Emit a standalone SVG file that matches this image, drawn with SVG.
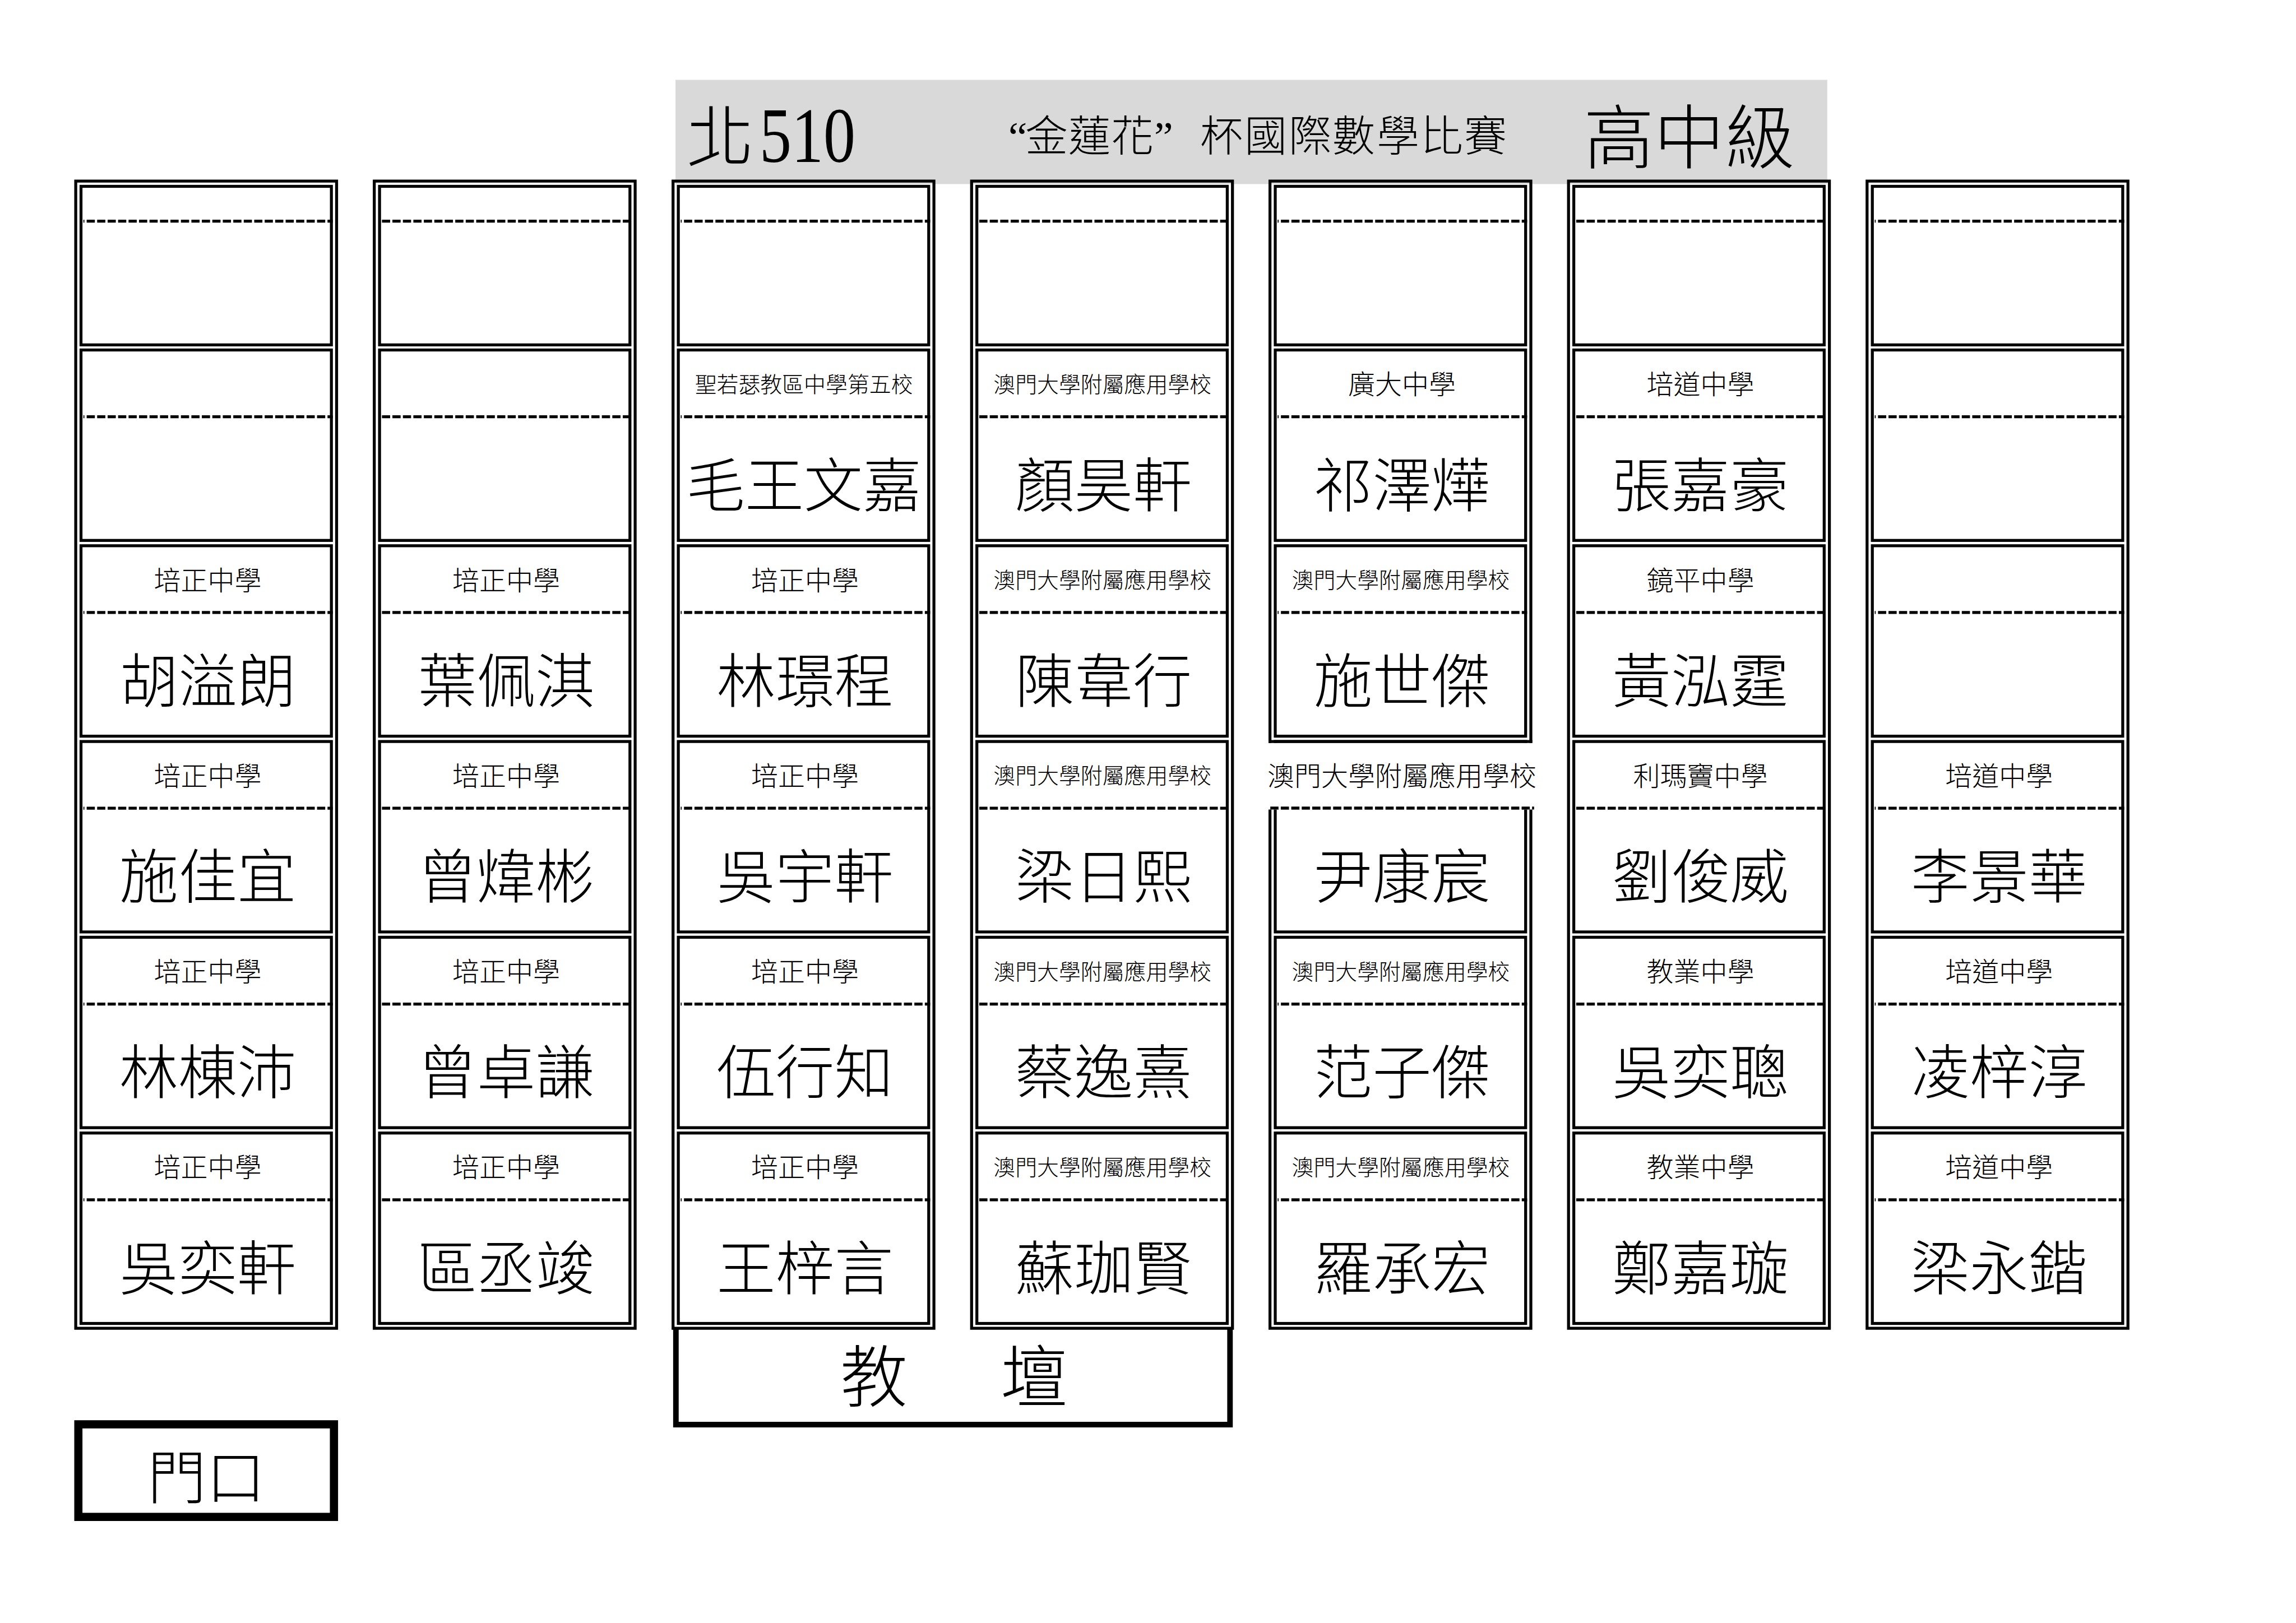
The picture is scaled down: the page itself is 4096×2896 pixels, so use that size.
<svg xmlns="http://www.w3.org/2000/svg" xmlns:xlink="http://www.w3.org/1999/xlink" width="4096" height="2896" viewBox="0 0 4096 2896">
<style>
text{font-family:"Liberation Serif","Noto Sans CJK TC",serif;fill:#000;text-anchor:middle;font-weight:300}
.n{font-size:105px}
.s{font-size:48px}
.t{font-size:38.9px}
.frame{fill:none;stroke:#000;stroke-width:5.25}
.cellbox{fill:#fff;stroke:#000;stroke-width:5.25}
.dash{fill:none;stroke:#000;stroke-width:5.25;stroke-dasharray:14.6 4.08}
.odd{stroke-dashoffset:12.85}
.even{stroke-dashoffset:0}
</style>
<defs>
<g id="cellTop"><rect class="cellbox" x="12" y="0" width="446.7" height="282.9"/><line class="dash" x1="16.3" y1="62.2" x2="461.3" y2="62.2"/></g>
<g id="cell"><rect class="cellbox" x="12" y="0" width="446.7" height="339.8"/><line class="dash" x1="16.3" y1="119.1" x2="461.3" y2="119.1"/></g>
<path id="outer" class="frame" d="M2.6 323.2H468V2370H2.6Z"/>
</defs>
<rect width="4096" height="2896" fill="#fff"/>
<g id="title">
<rect x="1205.1" y="142.5" width="2054.7" height="186" fill="#d9d9d9"/>
<text x="1285" y="288" font-size="120">北</text>
<text x="1355" y="289" font-size="139" textLength="171" lengthAdjust="spacingAndGlyphs" style="text-anchor:start">510</text>
<text x="1798.7 1829 1905.5 1982 2059 2141 2220 2299 2377 2456 2534 2612" y="270.4" font-size="76" style="text-anchor:start">“金蓮花”杯國際數學比賽</text>
<text x="3013.6" y="291.4" font-size="125.5">高中級</text>
</g>
<g id="podium">
<path d="M1205.8 2370V2542H2194.3V2370" fill="none" stroke="#000" stroke-width="9.9"/>
<text y="2501" font-size="120"><tspan x="1574">教</tspan> <tspan x="1845">壇</tspan></text>
</g>
<g id="door">
<rect x="139.8" y="2541.5" width="456" height="165.2" fill="none" stroke="#000" stroke-width="14.6"/>
<text x="368" y="2674" font-size="105">門口</text>
</g>
<g id="col1" class="odd" transform="translate(132.5 0)">
<use href="#outer"/>
<g id="c1r1"><use href="#cellTop" y="332.5"/></g>
<g id="c1r2" transform="translate(0 624.5)"><use href="#cell"/></g>
<g id="c1r3" transform="translate(0 973.8)"><use href="#cell"/><text class="s" x="238" y="78.8">培正中學</text><text class="n" x="238" y="279">胡溢朗</text></g>
<g id="c1r4" transform="translate(0 1323.1)"><use href="#cell"/><text class="s" x="238" y="78.8">培正中學</text><text class="n" x="238" y="279">施佳宜</text></g>
<g id="c1r5" transform="translate(0 1672.4)"><use href="#cell"/><text class="s" x="238" y="78.8">培正中學</text><text class="n" x="238" y="279">林棟沛</text></g>
<g id="c1r6" transform="translate(0 2021.7)"><use href="#cell"/><text class="s" x="238" y="78.8">培正中學</text><text class="n" x="238" y="279">吳奕軒</text></g>
</g>
<g id="col2" class="even" transform="translate(665.1 0)">
<use href="#outer"/>
<g id="c2r1"><use href="#cellTop" y="332.5"/></g>
<g id="c2r2" transform="translate(0 624.5)"><use href="#cell"/></g>
<g id="c2r3" transform="translate(0 973.8)"><use href="#cell"/><text class="s" x="238" y="78.8">培正中學</text><text class="n" x="238" y="279">葉佩淇</text></g>
<g id="c2r4" transform="translate(0 1323.1)"><use href="#cell"/><text class="s" x="238" y="78.8">培正中學</text><text class="n" x="238" y="279">曾煒彬</text></g>
<g id="c2r5" transform="translate(0 1672.4)"><use href="#cell"/><text class="s" x="238" y="78.8">培正中學</text><text class="n" x="238" y="279">曾卓謙</text></g>
<g id="c2r6" transform="translate(0 2021.7)"><use href="#cell"/><text class="s" x="238" y="78.8">培正中學</text><text class="n" x="238" y="279">區丞竣</text></g>
</g>
<g id="col3" class="odd" transform="translate(1198.1 0)">
<use href="#outer"/>
<g id="c3r1"><use href="#cellTop" y="332.5"/></g>
<g id="c3r2" transform="translate(0 624.5)"><use href="#cell"/><text class="t" x="236" y="75.3">聖若瑟教區中學第五校</text><text class="n" x="236" y="279">毛王文嘉</text></g>
<g id="c3r3" transform="translate(0 973.8)"><use href="#cell"/><text class="s" x="238" y="78.8">培正中學</text><text class="n" x="238" y="279">林璟程</text></g>
<g id="c3r4" transform="translate(0 1323.1)"><use href="#cell"/><text class="s" x="238" y="78.8">培正中學</text><text class="n" x="238" y="279">吳宇軒</text></g>
<g id="c3r5" transform="translate(0 1672.4)"><use href="#cell"/><text class="s" x="238" y="78.8">培正中學</text><text class="n" x="238" y="279">伍行知</text></g>
<g id="c3r6" transform="translate(0 2021.7)"><use href="#cell"/><text class="s" x="238" y="78.8">培正中學</text><text class="n" x="238" y="279">王梓言</text></g>
</g>
<g id="col4" class="even" transform="translate(1730.7 0)">
<use href="#outer"/>
<g id="c4r1"><use href="#cellTop" y="332.5"/></g>
<g id="c4r2" transform="translate(0 624.5)"><use href="#cell"/><text class="t" x="236" y="75.3">澳門大學附屬應用學校</text><text class="n" x="238" y="279">顏昊軒</text></g>
<g id="c4r3" transform="translate(0 973.8)"><use href="#cell"/><text class="t" x="236" y="75.3">澳門大學附屬應用學校</text><text class="n" x="238" y="279">陳韋行</text></g>
<g id="c4r4" transform="translate(0 1323.1)"><use href="#cell"/><text class="t" x="236" y="75.3">澳門大學附屬應用學校</text><text class="n" x="238" y="279">梁日熙</text></g>
<g id="c4r5" transform="translate(0 1672.4)"><use href="#cell"/><text class="t" x="236" y="75.3">澳門大學附屬應用學校</text><text class="n" x="238" y="279">蔡逸熹</text></g>
<g id="c4r6" transform="translate(0 2021.7)"><use href="#cell"/><text class="t" x="236" y="75.3">澳門大學附屬應用學校</text><text class="n" x="238" y="279">蘇珈賢</text></g>
</g>
<g id="col5" class="odd" transform="translate(2263 0)">
<use href="#outer"/>
<g id="c5r1"><use href="#cellTop" y="332.5"/></g>
<g id="c5r2" transform="translate(0 624.5)"><use href="#cell"/><text class="s" x="238" y="78.8">廣大中學</text><text class="n" x="238" y="279">祁澤燁</text></g>
<g id="c5r3" transform="translate(0 973.8)"><use href="#cell"/><text class="t" x="236" y="75.3">澳門大學附屬應用學校</text><text class="n" x="238" y="279">施世傑</text></g>
<g id="c5r4" transform="translate(0 1323.1)"><use href="#cell"/>
<rect x="-5" y="2.6" width="481" height="118.8" fill="#fff"/>
<line x1="0" y1="0" x2="470.6" y2="0" stroke="#000" stroke-width="5.25"/>
<line class="dash" x1="3.2" y1="118.8" x2="473.8" y2="118.8" style="stroke-dashoffset:0"/>
<text class="s" x="238" y="78.8">澳門大學附屬應用學校</text><text class="n" x="238" y="279">尹康宸</text></g>
<g id="c5r5" transform="translate(0 1672.4)"><use href="#cell"/><text class="t" x="236" y="75.3">澳門大學附屬應用學校</text><text class="n" x="238" y="279">范子傑</text></g>
<g id="c5r6" transform="translate(0 2021.7)"><use href="#cell"/><text class="t" x="236" y="75.3">澳門大學附屬應用學校</text><text class="n" x="238" y="279">羅承宏</text></g>
</g>
<g id="col6" class="even" transform="translate(2795.6 0)">
<use href="#outer"/>
<g id="c6r1"><use href="#cellTop" y="332.5"/></g>
<g id="c6r2" transform="translate(0 624.5)"><use href="#cell"/><text class="s" x="238" y="78.8">培道中學</text><text class="n" x="238" y="279">張嘉豪</text></g>
<g id="c6r3" transform="translate(0 973.8)"><use href="#cell"/><text class="s" x="238" y="78.8">鏡平中學</text><text class="n" x="238" y="279">黃泓霆</text></g>
<g id="c6r4" transform="translate(0 1323.1)"><use href="#cell"/><text class="s" x="238" y="78.8">利瑪竇中學</text><text class="n" x="238" y="279">劉俊威</text></g>
<g id="c6r5" transform="translate(0 1672.4)"><use href="#cell"/><text class="s" x="238" y="78.8">教業中學</text><text class="n" x="238" y="279">吳奕聰</text></g>
<g id="c6r6" transform="translate(0 2021.7)"><use href="#cell"/><text class="s" x="238" y="78.8">教業中學</text><text class="n" x="238" y="279">鄭嘉璇</text></g>
</g>
<g id="col7" class="odd" transform="translate(3328.2 0)">
<use href="#outer"/>
<g id="c7r1"><use href="#cellTop" y="332.5"/></g>
<g id="c7r2" transform="translate(0 624.5)"><use href="#cell"/></g>
<g id="c7r3" transform="translate(0 973.8)"><use href="#cell"/></g>
<g id="c7r4" transform="translate(0 1323.1)"><use href="#cell"/><text class="s" x="238" y="78.8">培道中學</text><text class="n" x="238" y="279">李景華</text></g>
<g id="c7r5" transform="translate(0 1672.4)"><use href="#cell"/><text class="s" x="238" y="78.8">培道中學</text><text class="n" x="238" y="279">凌梓淳</text></g>
<g id="c7r6" transform="translate(0 2021.7)"><use href="#cell"/><text class="s" x="238" y="78.8">培道中學</text><text class="n" x="238" y="279">梁永鍇</text></g>
</g>
</svg>
